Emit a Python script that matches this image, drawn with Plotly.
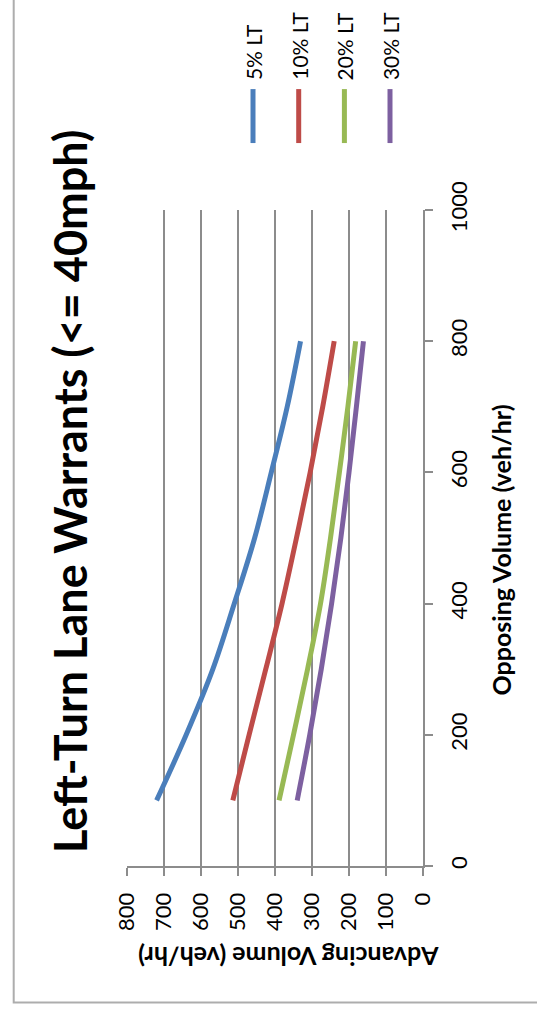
import plotly.graph_objects as go

# Opposing volume (veh/hr) at which each warrant curve is evaluated
opposing = [100, 200, 300, 400, 500, 600, 700, 800]

# Advancing volume (veh/hr) warrant thresholds per left-turn percentage
lt_5 = [720, 640, 568, 510, 455, 410, 367, 331]
lt_10 = [514, 470, 425, 381, 342, 305, 271, 240]
lt_20 = [389, 350, 312, 277, 250, 226, 203, 182]
lt_30 = [340, 306, 275, 247, 222, 200, 180, 161]

series_names = ["5% LT", "10% LT", "20% LT", "30% LT"]
series_values = [lt_5, lt_10, lt_20, lt_30]
colors = ["#4A7EBB", "#BE4B48", "#98B954", "#7D60A0"]

adv_ticks = [0, 100, 200, 300, 400, 500, 600, 700, 800]
opp_ticks = [0, 200, 400, 600, 800, 1000]

FONT = "Lato"
GRID = "#8C8C8C"

fig = go.Figure()

# The chart is laid out turned a quarter turn: advancing volume runs
# along the bottom (reversed), opposing volume runs up the right side.
for name, vals, col in zip(series_names, series_values, colors):
    fig.add_trace(go.Scatter(
        x=vals, y=opposing, mode="lines", name=name,
        line=dict(color=col, width=5, shape="spline"),
        hoverinfo="skip", showlegend=False,
    ))

W, H = 537, 1018
L, R, T, B = 127.3, 423.3, 210.0, 866.5


def px(xp):
    return (xp - L) / (R - L)


def py(yp):
    return (B - yp) / (B - T)


shapes = []
annotations = []

# outer chart border
shapes.append(dict(type="rect", xref="paper", yref="paper",
                   x0=px(14), x1=px(560), y0=py(1003), y1=py(-20),
                   line=dict(color="#ADADAD", width=2), layer="below"))

# legend: short vertical line with the label standing above it
legend_x = [253.3, 299.0, 344.7, 390.3]
for name, col, lx in zip(series_names, colors, legend_x):
    shapes.append(dict(type="line", xref="paper", yref="paper",
                       x0=px(lx), x1=px(lx), y0=py(143), y1=py(89),
                       line=dict(color=col, width=5)))
    annotations.append(dict(text=name, xref="paper", yref="paper",
                            x=px(lx), y=py(82), xanchor="center", yanchor="bottom",
                            textangle=-90, showarrow=False,
                            font=dict(family=FONT, size=21, color="#000")))

# chart title
annotations.append(dict(text="<b>Left-Turn Lane Warrants (<= 40mph)</b>",
                        xref="paper", yref="paper", x=px(71), y=py(491.5),
                        xanchor="center", yanchor="middle", textangle=-90,
                        showarrow=False,
                        font=dict(family=FONT, size=45, color="#000")))

# axis titles
annotations.append(dict(text="<b>Opposing Volume (veh/hr)</b>",
                        xref="paper", yref="paper", x=px(501), y=py(550),
                        xanchor="center", yanchor="middle", textangle=-90,
                        showarrow=False,
                        font=dict(family=FONT, size=25, color="#000")))
annotations.append(dict(text="<b>Advancing Volume (veh/hr)</b>",
                        xref="paper", yref="paper", x=px(289), y=py(957),
                        xanchor="center", yanchor="middle", textangle=180,
                        showarrow=False,
                        font=dict(family=FONT, size=25, color="#000")))

fig.update_layout(
    width=W, height=H,
    margin=dict(l=L, r=W - R, t=T, b=H - B, pad=0),
    paper_bgcolor="white", plot_bgcolor="white",
    shapes=shapes, annotations=annotations,
    showlegend=False,
    xaxis=dict(
        range=[800, 0], tickvals=adv_ticks, ticktext=[str(v) for v in adv_ticks],
        showgrid=True, gridcolor=GRID, gridwidth=2,
        showline=True, linecolor=GRID, linewidth=2,
        ticks="outside", ticklen=8, tickwidth=2, tickcolor=GRID,
        tickangle=-90, ticklabelstandoff=8,
        tickfont=dict(family=FONT, size=22, color="#000"),
        zeroline=False, fixedrange=True,
    ),
    yaxis=dict(
        range=[0, 1000], tickvals=opp_ticks, ticktext=[str(v) for v in opp_ticks],
        side="right", showgrid=False,
        showline=True, linecolor=GRID, linewidth=2,
        ticks="outside", ticklen=8, tickwidth=2, tickcolor=GRID,
        tickangle=-90, ticklabelstandoff=8,
        tickfont=dict(family=FONT, size=22, color="#000"),
        zeroline=False, fixedrange=True,
    ),
)

fig.write_html("out.html", config={"displayModeBar": False})
